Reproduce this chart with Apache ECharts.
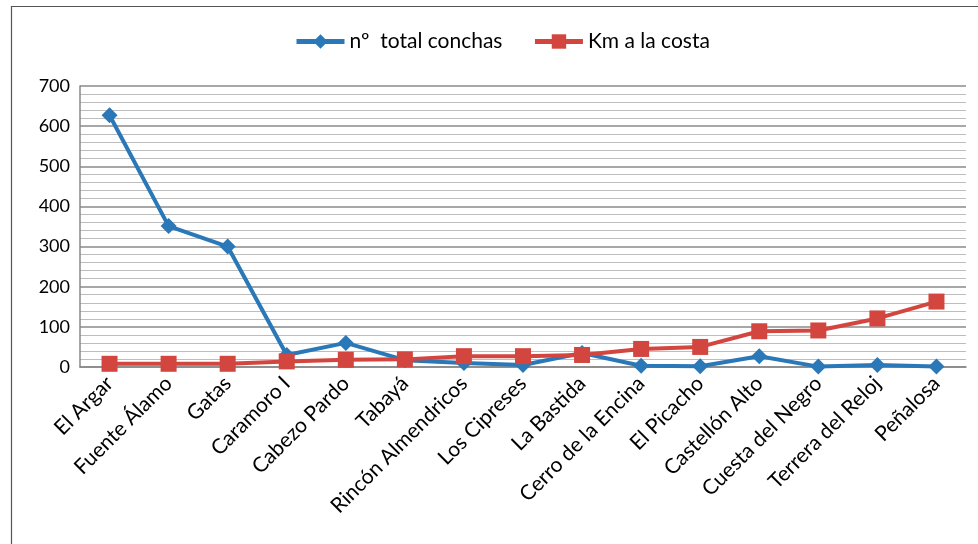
<!DOCTYPE html>
<html>
<head>
<meta charset="utf-8">
<script src="https://cdn.jsdelivr.net/npm/echarts@6/dist/echarts.min.js"></script>
<style>
  html, body { margin: 0; padding: 0; background: #fff; }
  #chart { width: 978px; height: 544px; }
</style>
</head>
<body>
<div id="chart"></div>
<script>
// Yacimientos
const categories = ['El Argar', 'Fuente Álamo', 'Gatas', 'Caramoro I', 'Cabezo Pardo', 'Tabayá',
  'Rincón Almendricos', 'Los Cipreses', 'La Bastida', 'Cerro de la Encina', 'El Picacho',
  'Castellón Alto', 'Cuesta del Negro', 'Terrera del Reloj', 'Peñalosa'];
// nº total de conchas por yacimiento
const totalConchas = [627, 351, 300, 30, 60, 17, 10, 5, 35, 3, 2, 27, 1, 5, 1];
// distancia a la costa (km)
const kmCosta = [8, 8, 8, 14, 18, 19, 27, 27, 30, 45, 50, 89, 91, 121, 163];
const yTicks = [0, 100, 200, 300, 400, 500, 600, 700];

const font = 'Lato, "Open Sans", sans-serif';
const chart = echarts.init(document.getElementById('chart'));
chart.setOption({
  animation: false,
  graphic: [{
    type: 'rect', left: 9, top: 4,
    shape: { width: 968, height: 545 },
    style: { fill: 'none', stroke: '#555', lineWidth: 1.2 }
  }],
  legend: {
    top: 26, left: 289, itemGap: 30, itemWidth: 48, itemHeight: 18,
    textStyle: { fontFamily: font, fontSize: 21, color: '#000' },
    lineStyle: { width: 5 },
    data: ['nº  total conchas', 'Km a la costa']
  },
  grid: { left: 80, right: 12, top: 86, bottom: 177 },
  xAxis: {
    type: 'category', data: categories, boundaryGap: true,
    axisLine: { lineStyle: { color: '#888', width: 1.5 } },
    axisTick: { show: false },
    axisLabel: { rotate: 45, fontFamily: font, fontSize: 21, color: '#000', interval: 0, margin: 13 }
  },
  yAxis: {
    type: 'value', min: yTicks[0], max: yTicks[yTicks.length - 1], interval: 100,
    axisLine: { show: true, lineStyle: { color: '#888', width: 1.5 } },
    axisTick: { show: false },
    axisLabel: { fontFamily: font, fontSize: 18, color: '#000', margin: 10 },
    splitLine: { lineStyle: { color: '#8a8a8a', width: 1.5 } },
    minorTick: { show: false, splitNumber: 5 },
    minorSplitLine: { show: true, lineStyle: { color: '#bdbdbd', width: 1.2 } }
  },
  series: [{
    name: 'nº  total conchas', type: 'line', data: totalConchas,
    symbol: 'diamond', symbolSize: 16,
    lineStyle: { color: '#2B78B8', width: 4 },
    itemStyle: { color: '#2B78B8' },
    z: 3
  }, {
    name: 'Km a la costa', type: 'line', data: kmCosta,
    symbol: 'rect', symbolSize: 16,
    lineStyle: { color: '#D3463F', width: 4 },
    itemStyle: { color: '#D3463F' },
    z: 4
  }]
});
</script>
</body>
</html>
